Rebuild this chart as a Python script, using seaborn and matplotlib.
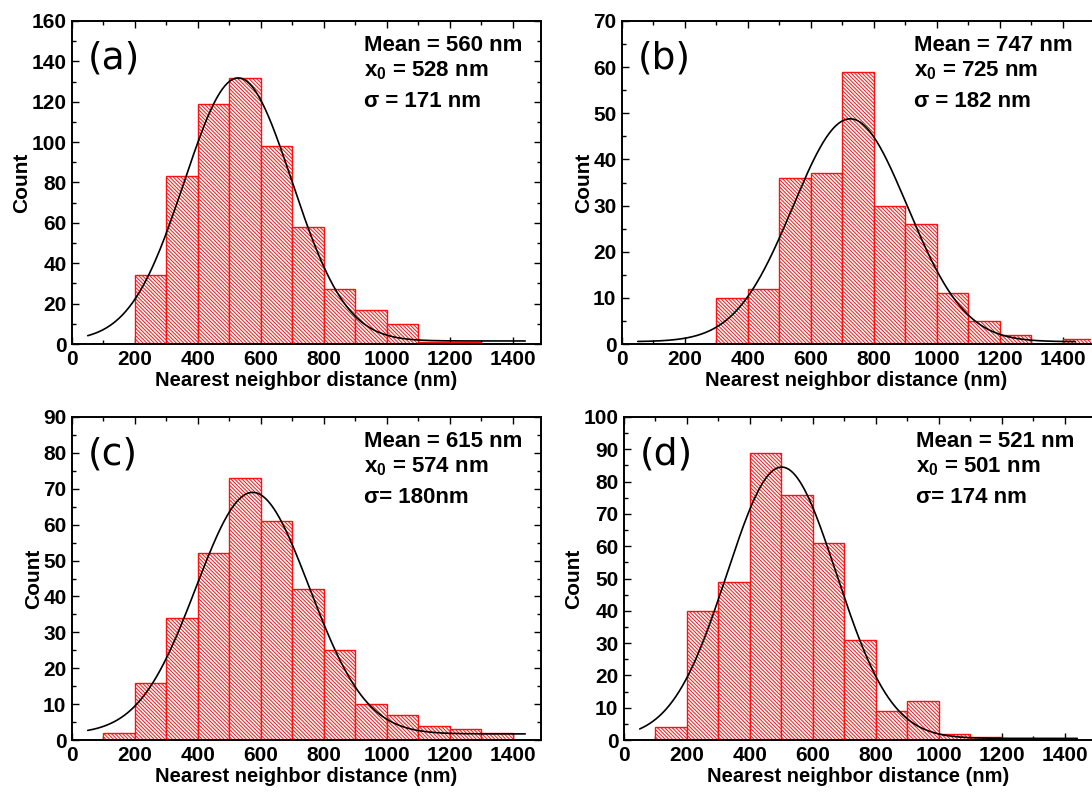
import numpy as np
import pandas as pd
import matplotlib
matplotlib.use("Agg")
import matplotlib.pyplot as plt
from matplotlib.ticker import MultipleLocator
import seaborn as sns

# ---------------- data ----------------
bin_width = 100
a_left = [200, 300, 400, 500, 600, 700, 800, 900, 1000, 1100, 1200]
a_count = [34, 83, 119, 132, 98, 58, 27, 17, 10, 1, 1]
b_left = [300, 400, 500, 600, 700, 800, 900, 1000, 1100, 1200, 1300, 1400]
b_count = [10, 12, 36, 37, 59, 30, 26, 11, 5, 2, 0, 1]
c_left = [100, 200, 300, 400, 500, 600, 700, 800, 900, 1000, 1100, 1200, 1300]
c_count = [2, 16, 34, 52, 73, 61, 42, 25, 10, 7, 4, 3, 2]
d_left = [100, 200, 300, 400, 500, 600, 700, 800, 900, 1000, 1100]
d_count = [4, 40, 49, 89, 76, 61, 31, 9, 12, 2, 1]

# Gaussian fit parameters (x0, sigma, amplitude, baseline)
a_fit = (528, 171, 130.3, 1.5)
b_fit = (725, 182, 48.3, 0.5)
c_fit = (574, 180, 67.3, 1.7)
d_fit = (501, 174, 84.0, 0.5)

panel_labels = ["(a)", "(b)", "(c)", "(d)"]
means = [560, 747, 615, 521]
sigma_texts = ["\u03c3 = 171 nm", "\u03c3 = 182 nm", "\u03c3= 180nm", "\u03c3= 174 nm"]
y_max = [160, 70, 90, 100]
y_major = [20, 10, 10, 10]
y_minor = [10, 5, 5, 5]
x_ticks = [0, 200, 400, 600, 800, 1000, 1200, 1400]

# ---------------- style ----------------
sns.set_style("ticks")
plt.rcParams["font.family"] = ["Liberation Sans", "DejaVu Sans"]
plt.rcParams["font.weight"] = "bold"
plt.rcParams["text.color"] = "black"
plt.rcParams["axes.labelcolor"] = "black"
plt.rcParams["xtick.color"] = "black"
plt.rcParams["ytick.color"] = "black"
plt.rcParams["mathtext.fontset"] = "custom"
plt.rcParams["mathtext.rm"] = "Liberation Sans:bold"
plt.rcParams["mathtext.bf"] = "Liberation Sans:bold"
plt.rcParams["hatch.linewidth"] = 0.7

W, H = 1092, 795
fig = plt.figure(figsize=(W / 100, H / 100), dpi=100)

rects_px = [(72, 21, 469, 323), (622, 21, 469, 323), (72, 417, 469, 323), (624, 417, 469, 323)]

lefts = [a_left, b_left, c_left, d_left]
counts = [a_count, b_count, c_count, d_count]
fits = [a_fit, b_fit, c_fit, d_fit]

for i in range(4):
    l, t, w, h = rects_px[i]
    ax = fig.add_axes([l / W, 1 - (t + h) / H, w / W, h / H])
    df = pd.DataFrame({"center": [v + bin_width / 2 for v in lefts[i]],
                       "count": counts[i]})
    edges = [float(e) for e in range(lefts[i][0], lefts[i][-1] + bin_width + 1, bin_width)]
    sns.histplot(data=df, x="center", weights="count", bins=edges, ax=ax,
                 color="white", edgecolor="red", linewidth=0.9, alpha=1)
    for p in list(ax.patches):
        if p.get_height() <= 0:
            p.remove()
            continue
        p.set_facecolor("white")
        p.set_edgecolor("#ff1010")
        p.set_hatch("\\" * 9)
        p.set_linewidth(1.0)

    x0, s, A, y0 = fits[i]
    xs = np.linspace(50, 1440, 400)
    ys = y0 + A * np.exp(-0.5 * ((xs - x0) / s) ** 2)
    sns.lineplot(x=xs, y=ys, ax=ax, color="black", linewidth=1.2)

    right_side = i in (0, 2)
    ax.set_xlim(0, 1490)
    ax.set_ylim(0, y_max[i])
    ax.set_xticks(x_ticks)
    ax.xaxis.set_minor_locator(MultipleLocator(100))
    ax.yaxis.set_major_locator(MultipleLocator(y_major[i]))
    ax.yaxis.set_minor_locator(MultipleLocator(y_minor[i]))
    ax.tick_params(which="both", direction="in", top=True, right=right_side,
                   labelsize=15, width=1.0, pad=4)
    ax.tick_params(which="major", length=5)
    ax.tick_params(which="minor", length=3)
    for lab in ax.get_xticklabels() + ax.get_yticklabels():
        lab.set_fontweight("bold")
    for sp in ax.spines.values():
        sp.set_linewidth(1.4)
        sp.set_color("black")
    if not right_side:
        ax.spines["right"].set_visible(False)

    ax.set_xlabel("Nearest neighbor distance (nm)", fontsize=14.5, fontweight="bold", labelpad=2)
    ax.set_ylabel("Count", fontsize=15, fontweight="bold", labelpad=0)

    ax.text(0.034, 0.885, panel_labels[i], transform=ax.transAxes, fontsize=27,
            fontweight="normal", family=["DejaVu Sans"], va="center", ha="left")
    tx = 0.622
    ax.text(tx, 0.925, f"Mean = {means[i]} nm", transform=ax.transAxes,
            fontsize=16, fontweight="bold", va="center", ha="left")
    ax.text(tx, 0.845, f"x$_0$ = {fits[i][0]} nm", transform=ax.transAxes,
            fontsize=16, fontweight="bold", va="center", ha="left")
    ax.text(tx, 0.75, sigma_texts[i], transform=ax.transAxes,
            fontsize=16, fontweight="bold", va="center", ha="left")

fig.savefig("out.png", dpi=100)
